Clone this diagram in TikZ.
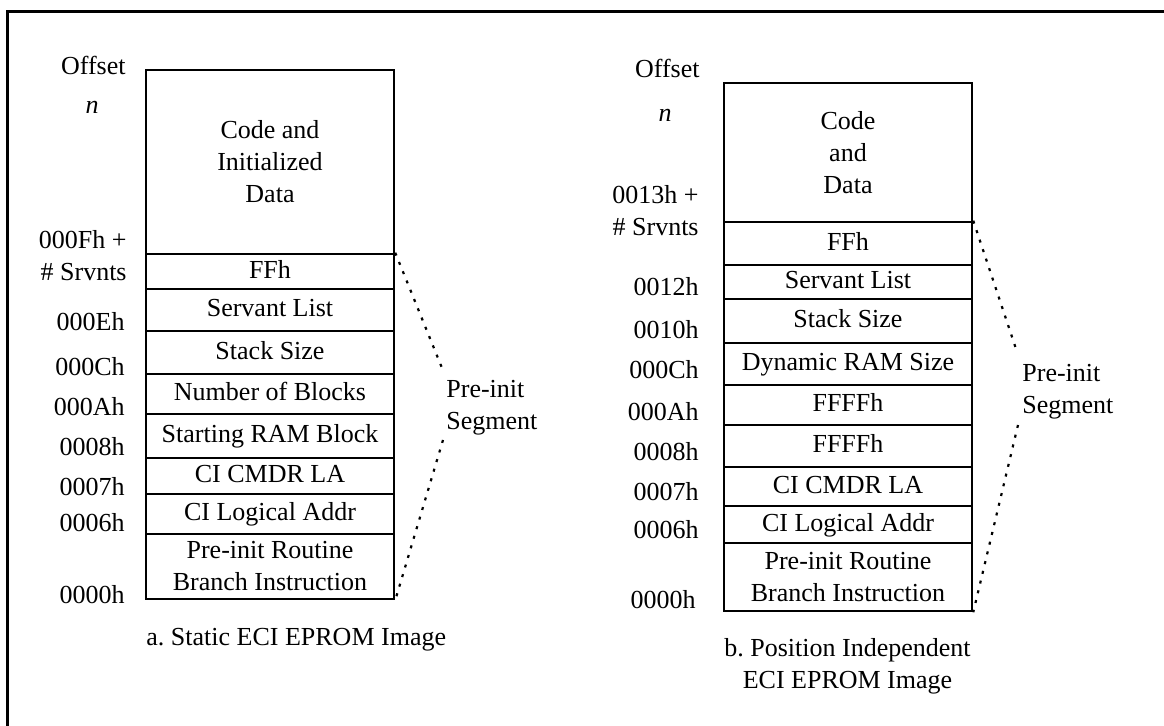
\documentclass[tikz,border=0pt]{standalone}
\usepackage{fontspec}
\setmainfont{Liberation Serif}

% one memory cell: [options]{name}{x1}{y1}{x2}{y2}{text}
\newcommand\mcell[7][]{%
  \node[cell,#1,
        minimum width={(#5-#3)*0.5pt},
        minimum height={(#6-#4)*0.5pt}]
    (#2) at ({(#3+#5)/2},{(#4+#6)/2}) {#7};}

\begin{document}
\begin{tikzpicture}[x=0.5pt,y=-0.5pt,
  every node/.style={font=\fontsize{13}{16}\selectfont, inner sep=0pt},
  cell/.style={draw, line width=1.25pt, rectangle},
  one/.style={text height=0.7em, text depth=0pt},
  addr/.style={anchor=east, align=right},
  seglabel/.style={anchor=west, align=left},
  seg/.style={line width=1.1pt, dash pattern=on 1.5pt off 3.5pt},
  frame/.style={line width=1.6pt, line join=miter}]

\useasboundingbox (0,0) rectangle (1164,726);

% open frame: top and left edges
\draw[frame] (1180,11.7) -- (7.7,11.7) -- (7.7,740);

% ---------- a. static image ----------
\mcell[align=center]{lcode}{146}{70}{394}{254}{Code and\\Initialized\\Data}
\mcell[one]{lff}{146}{254}{394}{289}{FFh}
\mcell[one]{lserv}{146}{289}{394}{331}{Servant List}
\mcell[one]{lstack}{146}{331}{394}{374}{Stack Size}
\mcell[one]{lnum}{146}{374}{394}{414}{Number of Blocks}
\mcell[one]{lstart}{146}{414}{394}{458}{Starting RAM Block}
\mcell[one]{lcmdr}{146}{458}{394}{494}{CI CMDR LA}
\mcell[one]{llog}{146}{494}{394}{534}{CI Logical Addr}
\mcell[align=center]{lpre}{146}{534}{394}{599}{Pre-init Routine\\Branch Instruction}

\node[addr] (lofs) at (126,65) {Offset};
\node (ln) at (92,107) {\textit{n}};
\node[addr] (lsrv) at (127,256) {000Fh +\\\# Srvnts};
\node[addr] (l0e) at (125,322) {000Eh};
\node[addr] (l0c) at (125,367) {000Ch};
\node[addr] (l0a) at (125,407) {000Ah};
\node[addr] (l08) at (125,447) {0008h};
\node[addr] (l07) at (125,487) {0007h};
\node[addr] (l06) at (125,523) {0006h};
\node[addr] (l00) at (125,595) {0000h};

\node[seglabel] (lseg) at (446,408) {Pre-init\\Segment};
\coordinate (lsegtop) at (442,368);
\coordinate (lsegbot) at (443,440);
\draw[seg] (lff.north east) -- (lsegtop);
\draw[seg] (lsegbot) -- (lpre.south east);

\node[anchor=base west] (capa) at (146,646) {a.\ Static ECI EPROM Image};

% ---------- b. position independent image ----------
\mcell[align=center]{rcode}{724}{83}{972}{222}{Code\\and\\Data}
\mcell[one]{rff}{724}{222}{972}{265}{FFh}
\mcell[one]{rserv}{724}{265}{972}{299}{Servant List}
\mcell[one]{rstack}{724}{299}{972}{343}{Stack Size}
\mcell[one]{rdyn}{724}{343}{972}{385}{Dynamic RAM Size}
\mcell[one]{rf1}{724}{385}{972}{425}{FFFFh}
\mcell[one]{rf2}{724}{425}{972}{467}{FFFFh}
\mcell[one]{rcmdr}{724}{467}{972}{506}{CI CMDR LA}
\mcell[one]{rlog}{724}{506}{972}{543}{CI Logical Addr}
\mcell[align=center]{rpre}{724}{543}{972}{611}{Pre-init Routine\\Branch Instruction}

\node[addr] (rofs) at (700,68) {Offset};
\node (rn) at (665,115) {\textit{n}};
\node[addr] (rsrv) at (699,211) {0013h +\\\# Srvnts};
\node[addr] (r12) at (699,287) {0012h};
\node[addr] (r10) at (699,330) {0010h};
\node[addr] (r0c) at (699,370) {000Ch};
\node[addr] (r0a) at (699,412) {000Ah};
\node[addr] (r08) at (699,452) {0008h};
\node[addr] (r07) at (699,492) {0007h};
\node[addr] (r06) at (699,530) {0006h};
\node[addr] (r00) at (696,600) {0000h};

\node[seglabel] (rseg) at (1022,392) {Pre-init\\Segment};
\coordinate (rsegtop) at (1017,352);
\coordinate (rsegbot) at (1018,425);
\draw[seg] (rff.north east) -- (rsegtop);
\draw[seg] (rsegbot) -- (rpre.south east);

\node[anchor=west, align=center] (capb) at (724,666)
  {b.\ Position Independent\\ECI EPROM Image};
\end{tikzpicture}
\end{document}
